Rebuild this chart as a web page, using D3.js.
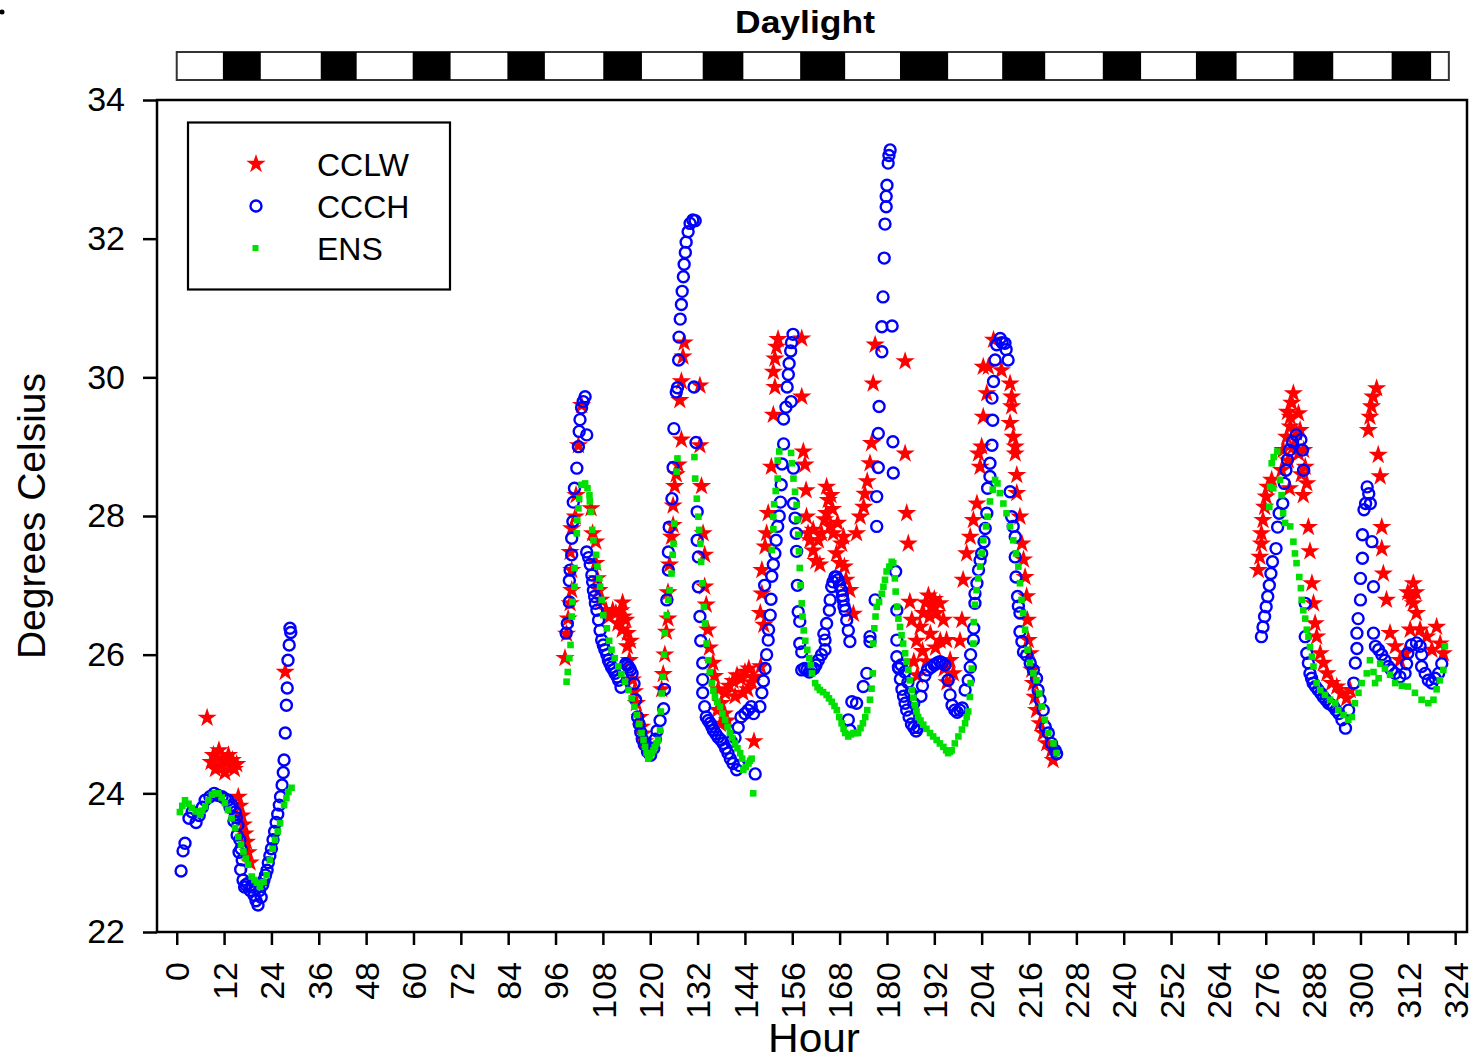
<!DOCTYPE html>
<html><head><meta charset="utf-8">
<script src="https://cdn.jsdelivr.net/npm/d3@7"></script>
<style>body{margin:0;background:#fff}svg{display:block}text{font-family:"Liberation Sans",Arial,sans-serif;fill:#000}</style>
</head><body>
<svg id="chart" width="1475" height="1061"></svg>
<script>
// ---------------- data ----------------
const hourTicks = [0,12,24,36,48,60,72,84,96,108,120,132,144,156,168,180,192,204,216,228,240,252,264,276,288,300,312,324];
const tempTicks = [22,24,26,28,30,32,34];
const seriesNames = ["CCLW","CCCH","ENS"];
const dayStart = 0, dayEnd = 322.4;
const nightStart = [11.7,36.5,59.8,83.8,108.1,133.3,158.0,183.3,209.2,234.7,258.3,283.0,307.9];
const nightEnd   = [21.3,45.6,69.4,93.3,117.9,143.6,169.4,195.5,220.1,244.4,268.6,293.1,317.9];

// CCLW  [hour, degrees C]
const cclw = [
[7.7,25.09],[8.7,24.45],[9.3,24.55],[9.8,24.35],[10.3,24.5],[10.7,24.62],[11.2,24.4],[11.7,24.5],[12.2,24.3],[12.6,24.45],[13.1,24.55],[13.6,24.4],[14.1,24.48],[14.6,24.35],[15.2,24.42],
[15.6,23.95],[16.0,23.82],[16.5,23.68],[16.9,23.55],[17.3,23.42],[17.7,23.3],[18.1,23.15],[18.6,23.0],[27.5,25.75],
[98.4,25.95],[98.8,26.3],[99.2,26.52],[99.7,26.74],[100.1,26.93],[100.1,27.22],[99.7,27.48],[100.1,27.82],[101.0,27.99],[101.2,28.3],[101.8,29.02],[102.6,29.6],
[105.0,28.11],[105.4,27.75],[106.2,27.63],[106.2,27.32],[106.6,27.1],[107.0,26.93],[107.5,26.79],[108.8,26.64],[109.6,26.55],[110.5,26.64],[111.3,26.6],[111.8,26.45],[112.6,26.64],[113.0,26.75],[113.2,26.55],[112.9,26.36],[113.8,26.5],[114.2,26.31],[115.0,26.2],[114.2,26.12],[114.7,25.92],[115.5,25.64],[116.0,25.47],[116.5,25.3],[117.4,25.1],[117.8,24.96],[118.2,24.86],[118.6,24.75],[119.3,24.65],
[122.9,25.5],[123.3,25.72],[123.7,26.0],[124.1,26.33],[124.5,26.52],[124.5,26.9],[124.9,27.3],[125.4,27.7],[125.8,27.87],[125.8,28.15],[126.2,28.43],[126.6,28.6],[127.1,28.74],[127.9,29.1],[127.5,29.67],[127.9,29.94],[128.3,30.3],[128.6,30.5],
[132.6,29.88],[132.6,29.02],[133.0,28.43],[133.4,27.75],[133.8,27.44],[133.8,26.98],[134.2,26.72],[134.6,26.36],[135.0,26.1],[135.9,25.88],[136.3,25.69],[137.2,25.5],[138.0,25.3],[138.8,25.15],[139.5,25.05],[137.0,25.2],[137.8,25.0],
[139.0,25.45],[140.0,25.55],[141.0,25.62],[142.0,25.7],[143.0,25.65],[144.0,25.75],[145.0,25.8],[145.7,25.6],[146.3,25.68],[141.5,25.4],[143.5,25.45],[144.7,25.5],[146.3,24.75],
[148.0,25.83],[148.8,26.43],[147.9,26.6],[148.3,26.88],[148.3,27.22],[149.1,27.56],[149.5,27.75],[149.9,28.04],[150.7,28.71],[151.2,29.46],[151.6,29.86],[151.2,30.08],[151.6,30.27],[152.0,30.44],[152.4,30.55],
[158.4,30.56],[158.4,29.72],[158.8,28.93],[159.2,28.74],[159.5,28.37],[159.6,27.99],[160.0,27.75],[160.5,27.65],
[161.3,27.8],[161.3,27.5],[162.0,27.35],[162.6,27.65],[163.0,27.3],[163.4,27.75],[164.2,27.95],[164.7,28.42],[165.1,28.23],[164.7,28.04],[165.6,27.85],[165.8,28.3],[166.2,28.1],[166.4,27.75],[167.2,27.46],[167.5,27.9],[168.1,27.32],[168.5,27.6],[169.0,27.7],[169.2,27.27],[169.6,27.08],[170.6,26.93],[171.5,26.59],
[172.3,27.75],[173.2,27.99],[174.1,28.13],[174.4,28.32],[175.0,28.5],[175.7,28.76],[176.1,29.05],[176.5,29.91],[177.0,30.47],
[184.6,30.23],[184.6,28.9],[185.0,28.04],[185.4,27.6],[185.8,26.76],[186.3,26.5],[186.8,25.9],[187.7,25.7],
[187.5,26.2],[188.4,26.4],[189.2,26.6],[189.8,26.75],[190.5,26.85],[191.3,26.7],[192.0,26.8],[192.6,26.6],[193.4,26.74],[194.3,26.5],[195.1,26.21],[196.0,25.92],[196.8,25.73],[189.0,26.05],[190.0,25.9],[191.0,26.3],[192.3,26.1],[190.8,26.55],[193.5,26.2],[194.5,25.8],[195.2,25.6],
[198.5,26.2],[199.0,26.5],[199.3,27.08],[200.2,27.46],[201.1,27.7],[201.9,27.94],[202.8,28.18],[203.6,28.71],[203.2,28.9],[204.0,29.0],[204.4,29.43],[205.3,29.77],[205.7,30.15],[204.4,30.15],[207.0,30.54],[209.0,30.1],
[211.2,29.91],[211.6,29.72],[211.6,29.58],[211.2,29.34],[212.0,29.14],[212.5,29.0],[212.5,28.9],[212.9,28.59],[212.9,28.33],[213.7,27.99],[214.2,27.6],[214.6,27.37],[215.0,27.12],[215.4,26.84],[215.6,26.5],[215.8,26.21],[216.3,26.02],[216.7,25.78],[217.1,25.59],[217.5,25.39],[217.9,25.2],[218.8,25.01],[219.6,24.87],[220.5,24.72],[221.7,24.62],[222.1,24.48],
[274.1,27.22],[274.5,27.41],[274.9,27.6],[274.9,27.75],[275.3,27.94],[275.7,28.13],[276.1,28.28],[276.5,28.42],[277.5,28.52],[280.0,28.66],[280.4,28.95],[281.3,29.14],[282.2,29.29],[282.2,29.43],[282.6,29.63],[283.0,29.77],[281.7,28.8],[283.8,29.2],[284.3,28.9],[285.0,28.6],[285.5,28.3],[283.0,29.0],[281.5,29.5],[282.0,28.4],
[284.3,29.48],[284.7,29.24],[285.6,28.95],[286.0,28.71],[286.4,28.47],[286.8,27.84],[287.2,27.49],[287.7,27.03],[288.1,26.74],[288.5,26.45],[288.9,26.26],[289.8,26.02],[290.6,25.88],[291.5,25.73],[292.7,25.59],[294.0,25.54],[295.2,25.44],[296.5,25.37],[297.4,25.49],
[302.0,29.24],[302.4,29.43],[302.8,29.58],[303.2,29.72],[304.1,29.84],[304.5,28.88],[305.0,28.57],[305.4,27.84],[305.4,27.53],[305.8,27.17],[306.6,26.79],[307.5,26.31],[308.8,26.12],[310.0,25.92],[311.3,26.02],[312.6,26.36],[313.4,26.74],[313.4,27.03],[312.0,26.9],[312.8,26.8],[314.0,26.9],[314.2,26.6],[315.1,26.36],[316.8,26.26],[318.1,26.07],[319.3,26.4],[320.2,26.16],[321.0,26.02]
];

// CCCH  [hour, degrees C]
const ccch = [
[1.1,22.88],[1.6,23.17],[2.1,23.28],[3.1,23.64],[3.9,23.73],[4.9,23.58],[5.7,23.68],[6.5,23.8],[7.2,23.9],[8.4,23.95],[9.5,24.0],[10.5,23.97],[11.5,23.95],[12.3,23.92],[13.0,23.9],[13.5,23.8],[14.0,23.83],[14.5,23.6],[14.8,23.73],[15.1,23.65],[15.3,23.4],[15.5,23.54],[15.8,23.15],[16.0,23.33],[16.2,22.9],[16.3,23.2],[16.6,23.04],[16.8,22.75],[17.2,22.65],[17.5,22.68],[18.0,22.7],[18.6,22.6],[19.2,22.65],[19.6,22.53],[20.1,22.45],[20.6,22.39],[21.0,22.6],[21.4,22.5],[21.8,22.68],[22.1,22.75],[22.5,22.82],[22.9,22.89],[23.2,23.0],[23.6,23.1],[24.0,23.2],[24.4,23.33],[24.8,23.45],[25.2,23.58],[25.6,23.7],[26.0,23.83],[26.3,23.95],[26.7,24.12],[27.0,24.3],[27.2,24.48],[27.5,24.87],[27.8,25.27],[28.0,25.52],[28.2,25.92],[28.5,26.14],[28.7,26.38],[28.9,26.32],
[98.7,26.31],[99.0,26.45],[99.5,26.76],[99.5,27.07],[99.7,27.22],[100.1,27.44],[100.1,27.68],[100.4,27.92],[100.5,28.2],[100.8,28.4],[101.4,28.69],[101.8,29.0],[102.0,29.22],[102.2,29.39],[102.6,29.56],[103.0,29.65],[103.5,29.72],[103.9,29.17],
[103.9,27.48],[104.4,27.4],[104.8,27.3],[105.2,27.15],[105.4,27.05],[105.6,26.93],[105.9,26.84],[106.1,26.74],[106.5,26.64],[106.9,26.5],[107.3,26.35],[107.7,26.21],[108.1,26.14],[108.5,26.07],[109.0,26.0],[109.4,25.92],[109.8,25.87],[110.2,25.82],[110.7,25.78],[111.1,25.73],[111.6,25.68],[112.0,25.63],[112.6,25.53],[113.8,25.87],[114.2,25.85],[114.6,25.82],[115.0,25.78],[115.4,25.73],[115.9,25.58],[116.3,25.35],[116.8,25.1],[117.2,25.0],[117.6,24.88],[118.0,24.78],[118.5,24.7],[119.3,24.6],[120.1,24.55],[120.9,24.65],[121.3,24.78],[121.7,24.9],[122.5,25.05],[123.4,25.22],[123.6,25.5],[124.2,26.79],[124.6,27.22],[124.6,27.48],[124.8,27.84],[125.5,28.25],[125.8,28.7],[126.0,29.26],[126.6,29.79],
[126.9,29.85],[127.2,30.25],[127.3,30.58],[127.6,30.84],[127.9,31.05],[128.1,31.24],[128.4,31.45],[128.6,31.63],[128.9,31.8],[129.1,31.95],[129.6,32.1],[130.1,32.22],[130.8,32.27],[131.4,32.26],[131.1,29.86],[131.6,29.06],
[131.9,28.06],[131.9,27.65],[132.2,27.41],[132.2,26.98],[132.6,26.55],[132.8,26.2],[133.3,25.88],[133.3,25.64],[133.3,25.45],[133.8,25.25],[134.2,25.1],[134.7,25.05],[135.2,25.01],[135.6,24.96],[136.0,24.91],[136.6,24.86],[137.2,24.81],[137.9,24.77],[138.5,24.72],[139.1,24.65],[139.7,24.58],[140.3,24.5],[141.0,24.43],[141.9,24.34],[142.6,24.4],
[140.5,24.75],[141.5,24.8],[142.3,24.95],[143.0,25.1],[144.0,25.15],[144.8,25.2],[145.6,25.25],[146.2,25.15],[146.6,24.28],
[147.8,25.25],[148.3,25.45],[148.7,25.62],[149.1,25.8],[149.5,26.0],[149.9,26.21],[150.0,26.36],[150.4,26.57],[150.6,26.8],[149.0,27.0],[150.8,27.13],[151.2,27.3],[151.6,27.46],[151.9,27.65],[152.3,27.85],[152.7,28.0],[153.0,28.2],[153.2,28.45],[153.4,28.75],[153.8,29.04],[153.8,29.4],[154.4,29.57],[154.7,29.86],[155.0,30.04],[155.2,30.2],[155.6,30.38],[155.8,30.5],[156.2,30.62],
[155.7,29.65],[156.3,28.69],[156.3,28.18],[156.7,27.97],[157.0,27.75],[157.1,27.49],[157.3,27.0],[157.5,26.62],[157.9,26.48],[157.9,26.16],[158.4,26.04],[158.4,25.78],[159.1,25.8],[159.7,25.78],[160.3,25.75],[160.9,25.78],[161.5,25.8],[162.0,25.85],[162.6,25.92],[163.4,26.0],[164.0,26.3],[164.3,26.07],[164.3,26.21],[164.7,26.45],[165.4,26.64],[165.6,26.79],[166.0,26.98],[166.3,27.05],[166.8,27.12],[167.2,27.12],[167.6,27.08],[168.0,27.0],[168.5,26.93],[168.7,26.85],[168.9,26.79],[169.1,26.7],[169.4,26.64],[169.8,26.5],[170.2,26.35],[170.6,26.19],
[170.2,25.06],[170.6,24.91],[171.1,25.32],[172.3,25.3],[174.0,25.54],[174.9,25.73],[175.7,26.19],[175.7,26.26],[177.0,26.79],
[177.4,27.85],[177.4,28.28],[177.8,28.7],[177.8,29.19],[178.0,29.58],[178.7,30.37],[178.7,30.73],[179.0,31.16],[179.3,31.72],[179.5,32.21],[179.8,32.46],[179.8,32.61],[180.0,32.77],[180.3,33.09],[180.5,33.2],[180.8,33.28],[181.3,30.74],[181.5,29.07],[181.6,28.62],[182.2,27.2],[182.5,26.64],[182.5,26.21],[182.5,25.97],[182.9,25.82],
[183.0,25.8],[183.4,25.65],[183.8,25.5],[184.2,25.4],[184.6,25.3],[185.0,25.2],[185.6,25.1],[186.2,25.0],[186.8,24.95],[187.4,24.9],[187.9,24.95],[183.6,25.85],[184.5,25.75],[185.3,25.6],[186.0,25.45],[186.8,25.3],
[188.6,25.4],[189.0,25.55],[189.6,25.7],[190.3,25.78],[191.2,25.82],[192.0,25.85],[192.7,25.88],[193.4,25.9],[194.0,25.88],[194.7,25.85],[195.5,25.63],[196.0,25.42],[196.5,25.27],[197.2,25.2],[197.8,25.17],[198.5,25.2],[199.1,25.23],
[199.8,25.49],[200.6,25.63],[201.1,25.82],[201.2,26.0],[201.9,26.21],[202.0,26.38],[202.3,26.74],[202.3,26.88],[202.8,27.03],[203.2,27.22],[203.6,27.36],[204.0,27.46],[204.6,27.63],[204.9,27.82],[205.3,28.04],[205.5,28.4],[206.1,28.57],[206.1,28.76],[206.6,29.02],[206.8,29.38],[206.6,29.7],[207.0,29.94],[207.4,30.25],[207.8,30.47],[208.7,30.56],[209.2,30.5],[209.9,30.49],[210.2,30.4],[210.7,30.25],
[211.2,28.35],[211.6,27.99],[212.0,27.85],[212.5,27.7],[212.5,27.41],[212.7,27.12],[213.1,26.84],[213.3,26.7],[213.7,26.6],[213.7,26.33],[214.2,26.19],[214.6,26.04],[215.4,25.99],[216.3,25.88],[217.1,25.78],[217.9,25.66],[218.3,25.49],[218.8,25.35],[219.6,25.2],[220.1,24.96],[220.9,24.87],[221.7,24.72],[222.6,24.62],[223.0,24.57],
[274.9,26.26],[275.3,26.4],[275.7,26.55],[276.1,26.69],[276.5,26.84],[276.9,27.0],[277.3,27.17],[277.7,27.34],[278.6,27.53],[279.0,27.84],[279.4,28.04],[280.3,28.18],[280.7,28.47],[281.1,28.66],[281.5,28.81],[282.0,28.95],[282.8,29.07],[283.7,29.17],[284.9,29.1],[285.3,28.95],[285.6,28.66],
[286.0,26.74],[286.0,26.26],[286.4,26.02],[286.8,25.88],[287.2,25.73],[287.6,25.66],[288.0,25.59],[288.6,25.54],[289.3,25.49],[290.0,25.44],[290.6,25.39],[291.2,25.35],[291.9,25.3],[292.5,25.28],[293.2,25.25],[293.8,25.2],[294.5,25.15],[295.3,25.06],[296.2,24.94],[297.0,25.2],[298.3,25.59],[298.7,25.88],[299.1,26.09],[299.1,26.31],[299.4,26.52],[300.0,26.79],[300.0,27.1],[300.5,27.39],[300.5,27.73],[300.9,28.09],[301.3,28.18],[301.7,28.42],[302.1,28.32],[302.5,28.18],[302.9,27.63],[303.3,26.98],[303.3,26.31],
[303.8,26.12],[304.6,26.07],[305.4,26.0],[306.2,25.92],[307.1,25.83],[307.9,25.78],[308.8,25.73],[310.0,25.68],[311.3,25.73],[311.7,25.87],[312.0,26.02],[312.9,26.14],[314.2,26.17],[315.1,26.12],[315.5,26.0],[315.5,25.83],[316.4,25.73],[317.2,25.63],[318.1,25.59],[318.9,25.66],[319.8,25.73],[320.6,25.87]
];

// ENS  [hour, degrees C]
const ens = [
[0.8,23.73],[1.4,23.82],[2.1,23.9],[3.0,23.85],[3.8,23.79],[4.8,23.74],[5.9,23.69],[6.5,23.75],[7.2,23.81],[8.0,23.9],[8.9,23.98],[9.7,24.0],[10.5,24.0],[11.4,23.94],[12.2,23.86],[13.0,23.76],[13.9,23.64],[14.8,23.5],[15.6,23.37],[16.3,23.26],[16.9,23.16],[17.5,23.06],[18.1,22.97],[19.0,22.8],[19.7,22.75],[20.3,22.71],[21.1,22.65],[22.0,22.72],[22.8,22.82],[23.6,23.04],[24.3,23.2],[24.9,23.33],[25.6,23.45],[26.2,23.57],[27.2,23.83],[27.8,23.93],[28.3,24.02],[29.1,24.08],
[98.8,25.61],[99.1,25.75],[99.5,25.95],[99.8,26.14],[100.1,26.55],[100.3,26.76],[100.8,26.98],[100.8,27.25],[101.4,27.75],[101.5,27.94],[101.8,28.11],[102.0,28.25],[102.6,28.45],[103.5,28.47],[104.1,28.4],[104.6,28.3],[104.7,28.21],[105.0,28.06],[105.3,27.8],[105.6,27.65],[106.3,27.44],[106.6,27.27],[107.1,27.1],[107.3,26.98],[107.7,26.79],[108.1,26.57],[109.0,26.38],[109.6,26.2],[110.2,26.07],[111.0,25.95],[111.9,25.83],[112.7,25.72],[113.6,25.61],[114.5,25.49],[115.3,25.37],[116.0,25.25],[116.6,25.13],[117.2,25.0],[117.8,24.87],[118.3,24.77],[118.7,24.67],[119.1,24.58],[119.5,24.5],[120.0,24.54],[120.4,24.58],[120.8,24.62],[121.2,24.67],[121.6,24.72],[122.0,24.77],[122.5,24.91],[122.7,25.18],[122.9,25.44],[123.2,25.68],[123.5,26.0],[123.7,26.31],[124.2,26.57],[124.6,26.79],[124.9,26.93],[125.4,27.17],[125.7,27.44],[125.9,27.6],[126.1,27.89],[126.7,28.64],[126.9,28.83],
[131.2,28.85],[131.4,28.54],[131.8,28.25],[132.2,27.99],[132.4,27.8],[132.7,27.6],[132.9,27.34],[133.2,27.03],[133.6,26.69],[133.9,26.45],[134.3,26.16],[134.7,25.92],[135.1,25.75],[135.6,25.59],[136.0,25.48],[136.4,25.39],[137.0,25.32],[137.7,25.25],[138.3,25.15],[139.0,25.06],[139.6,24.96],[140.2,24.87],[140.8,24.8],[141.5,24.72],[142.1,24.65],[142.8,24.58],[143.3,24.5],[143.6,24.34],[144.2,24.38],[144.9,24.43],[145.3,24.47],[145.7,24.5],[146.1,24.0],
[150.8,27.51],[151.2,27.81],[151.2,27.99],[151.4,28.17],[151.8,28.36],[152.3,28.54],[152.3,28.8],[152.7,28.93],
[155.7,28.91],[155.9,28.76],[156.3,28.54],[156.7,28.35],[157.1,28.16],[157.3,27.95],[157.5,27.73],[157.7,27.49],[157.9,27.25],[158.1,27.0],[158.4,26.74],[158.6,26.55],[158.9,26.35],[159.3,26.2],[159.8,26.07],[160.3,25.95],[160.7,25.85],[161.0,25.73],[161.8,25.59],[162.4,25.53],[163.0,25.49],[163.8,25.46],[164.7,25.42],[165.3,25.37],[166.0,25.32],[166.7,25.26],[167.3,25.2],[167.9,25.1],[168.5,25.01],[169.0,24.93],[169.4,24.87],[170.2,24.82],[170.9,24.85],[171.5,24.87],[172.1,24.87],[172.7,24.87],[173.3,24.94],[173.9,25.01],[174.5,25.1],[175.0,25.2],[175.7,25.35],[176.1,25.51],[176.4,25.73],[176.5,26.16],[176.8,26.38],[177.1,26.55],[177.4,26.69],[178.0,26.76],[178.7,26.88],[179.1,26.98],[179.5,27.08],[179.9,27.2],[180.6,27.27],[181.2,27.34],[181.6,27.32],[182.0,27.1],[182.2,26.91],[182.6,26.69],[182.9,26.52],[183.3,26.4],[183.7,26.28],[184.1,26.16],[184.6,26.02],[185.0,25.9],[185.4,25.78],[185.8,25.63],[186.3,25.49],[186.7,25.38],[187.1,25.27],[187.5,25.18],[187.9,25.1],[188.5,25.05],[189.2,24.99],[190.0,24.93],[190.9,24.87],[191.7,24.82],[192.6,24.77],[193.4,24.72],[194.3,24.67],[195.0,24.62],[195.5,24.58],[196.0,24.6],[196.4,24.62],[197.2,24.72],[198.1,24.82],[199.0,24.92],[199.8,25.01],[200.2,25.1],[200.6,25.18],[201.0,25.39],[201.2,25.59],[201.5,25.8],[201.9,26.16],[202.0,26.47],[202.3,26.72],[202.7,26.93],[203.1,27.1],[203.6,27.27],[204.0,27.46],[204.4,27.65],[205.1,27.85],[205.5,27.99],[206.1,28.21],[206.8,28.38],[207.4,28.52],[208.0,28.47],[208.6,28.33],[209.5,28.18],[210.3,28.04],[211.2,27.85],[212.0,27.65],[212.7,27.46],[213.3,27.27],[213.7,27.03],[214.1,26.79],[214.5,26.6],[215.0,26.36],[215.6,26.07],[216.2,25.88],[217.1,25.73],[217.9,25.63],[218.6,25.44],[219.2,25.25],[220.0,25.06],[220.9,24.87],[222.2,24.72],[223.0,24.58],
[276.9,28.13],[277.1,28.42],[277.9,28.4],[277.5,28.76],[278.0,28.85],[278.9,28.93],[279.6,28.52],[280.0,28.3],[280.4,28.04],[280.9,27.9],[282.2,27.85],[283.0,27.63],[283.4,27.46],[283.8,27.32],[284.5,27.12],[284.9,26.96],[285.1,26.79],[285.5,26.64],[286.0,26.52],[286.4,26.36],[286.8,26.26],[287.2,26.11],[287.7,25.97],[288.1,25.83],[288.9,25.59],[289.8,25.49],[291.0,25.42],[292.3,25.35],[293.6,25.3],[294.4,25.2],[295.7,25.13],[296.9,25.06],[297.8,25.1],[298.6,25.3],[299.5,25.45],[300.3,25.59],[301.6,25.73],[302.4,25.92],[303.3,25.75],[303.7,25.59],[304.6,25.66],[305.0,25.87],[306.2,25.8],[307.5,25.71],[308.8,25.59],[310.5,25.55],[312.0,25.54],[313.8,25.45],[315.5,25.35],[317.2,25.3],[318.5,25.35],[319.3,25.5],[320.1,25.63],[321.0,25.78],[321.4,26.12]
];

// ---------------- chart ----------------
const svg = d3.select("#chart");
const x = d3.scaleLinear().domain([-5, 327]).range([157, 1467]);
const y = d3.scaleLinear().domain([22, 34]).range([932, 100]);

// stray dot at top-left corner
svg.append("circle").attr("cx", 2).attr("cy", 12).attr("r", 2.5).attr("fill", "#000");

// Daylight bar
svg.append("text").attr("x", 805).attr("y", 33).attr("text-anchor", "middle")
  .attr("font-size", 31).attr("font-weight", "bold")
  .attr("textLength", 140).attr("lengthAdjust", "spacingAndGlyphs").text("Daylight");
const bar = svg.append("g");
bar.append("rect").attr("x", x(dayStart)).attr("y", 52).attr("width", x(dayEnd) - x(dayStart)).attr("height", 28)
  .attr("fill", "#fff").attr("stroke", "#333").attr("stroke-width", 2);
bar.selectAll("rect.night").data(d3.zip(nightStart, nightEnd)).join("rect").attr("class", "night")
  .attr("x", d => x(d[0])).attr("y", 52).attr("width", d => x(d[1]) - x(d[0])).attr("height", 28).attr("fill", "#000");

// frame
svg.append("rect").attr("x", 157).attr("y", 100).attr("width", 1310).attr("height", 832)
  .attr("fill", "none").attr("stroke", "#000").attr("stroke-width", 2.5);

// axes
const gx = svg.append("g").attr("transform", "translate(0,932)")
  .call(d3.axisBottom(x).tickValues(hourTicks).tickSize(13).tickFormat(d3.format("d")));
gx.select(".domain").remove();
gx.selectAll(".tick line").attr("stroke", "#000").attr("stroke-width", 2.5);
gx.selectAll(".tick text").attr("font-size", 34).attr("font-family", "Liberation Sans, Arial, sans-serif")
  .attr("transform", "rotate(-90)").attr("x", -30).attr("y", 0).attr("dy", "0.36em").attr("text-anchor", "end").attr("fill", "#000");

const gy = svg.append("g").attr("transform", "translate(157,0)")
  .call(d3.axisLeft(y).tickValues(tempTicks).tickSize(14).tickPadding(18).tickFormat(d3.format("d")));
gy.select(".domain").remove();
gy.selectAll(".tick line").attr("stroke", "#000").attr("stroke-width", 2.5);
gy.selectAll(".tick text").attr("font-size", 34).attr("font-family", "Liberation Sans, Arial, sans-serif").attr("fill", "#000");

// axis titles
svg.append("text").attr("x", 814).attr("y", 1052).attr("text-anchor", "middle").attr("font-size", 41)
  .attr("textLength", 92).attr("lengthAdjust", "spacingAndGlyphs").text("Hour");
svg.append("text").attr("transform", "translate(45,516) rotate(-90)").attr("text-anchor", "middle").attr("font-size", 39).text("Degrees Celsius");

// marks
const star = d3.symbol(d3.symbolStar, 115)();
svg.append("g").selectAll("path").data(cclw).join("path")
  .attr("d", star).attr("transform", d => `translate(${x(d[0])},${y(d[1])})`).attr("fill", "#ff0000");
svg.append("g").selectAll("circle").data(ccch).join("circle")
  .attr("cx", d => x(d[0])).attr("cy", d => y(d[1])).attr("r", 5.5)
  .attr("fill", "none").attr("stroke", "#0000ff").attr("stroke-width", 2.4);
svg.append("g").selectAll("rect").data(ens).join("rect")
  .attr("x", d => x(d[0]) - 3.3).attr("y", d => y(d[1]) - 3.3).attr("width", 6.6).attr("height", 6.6).attr("fill", "#00e000");

// legend
const lg = svg.append("g");
lg.append("rect").attr("x", 188).attr("y", 122.5).attr("width", 262).attr("height", 167)
  .attr("fill", "#fff").attr("stroke", "#000").attr("stroke-width", 2.2);
const ly = [164, 206, 248];
lg.append("path").attr("d", star).attr("transform", `translate(256,${ly[0]})`).attr("fill", "#ff0000");
lg.append("circle").attr("cx", 256).attr("cy", ly[1]).attr("r", 5.5).attr("fill", "none").attr("stroke", "#0000ff").attr("stroke-width", 2.4);
lg.append("rect").attr("x", 252.5).attr("y", ly[2] - 3).attr("width", 6).attr("height", 6).attr("fill", "#00e000");
lg.selectAll("text").data(seriesNames).join("text")
  .attr("x", 317).attr("y", (d, i) => ly[i] + 12).attr("font-size", 32).text(d => d);
</script>
</body></html>
